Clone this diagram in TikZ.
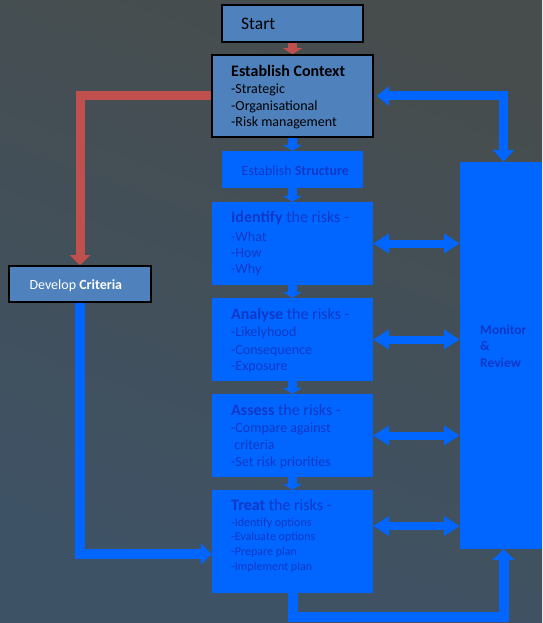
\documentclass[tikz,border=0pt]{standalone}
\usepackage{fontspec}
\setmainfont{Carlito}
\usetikzlibrary{arrows.meta}
\definecolor{bgtop}{RGB}{71,77,77}
\definecolor{bgbot}{RGB}{62,82,102}
\definecolor{paleblue}{RGB}{79,129,189}
\definecolor{vivid}{RGB}{0,102,255}
\definecolor{deepblue}{RGB}{18,56,200}
\definecolor{brick}{RGB}{192,80,77}
\tikzset{
  framed/.style={rectangle, draw=black, line width=1.6pt, fill=paleblue, inner sep=0pt},
  plain/.style={rectangle, fill=vivid, inner sep=0pt},
  ttl/.style={anchor=base west, inner sep=0pt, font=\fontsize{16}{19}\selectfont},
  itm/.style={anchor=base west, inner sep=0pt, font=\fontsize{14}{17}\selectfont},
  sml/.style={anchor=base west, inner sep=0pt, font=\fontsize{12}{14}\selectfont},
  bigtxt/.style={anchor=base west, inner sep=0pt, font=\fontsize{17.5}{21}\selectfont},
  montxt/.style={anchor=base west, inner sep=0pt, text=deepblue, font=\fontsize{13.5}{16}\selectfont\bfseries},
  redflow/.style={draw=brick, line width=9pt, line join=miter},
  blueflow/.style={draw=vivid, line width=9pt, line join=miter},
  stub/.style={-{Triangle[width=19pt,length=6pt]}},
  both/.style={line width=8pt, draw=vivid, {Triangle[width=19pt,length=16pt]}-{Triangle[width=19pt,length=16pt]}},
}
\begin{document}
\begin{tikzpicture}[x=1pt,y=-1pt]
  % background
  \shade[shading=axis, top color=bgtop, bottom color=bgbot, shading angle=-20] (0,0) rectangle (542,623);
  \useasboundingbox (0,0) rectangle (542,623);

  % boxes
  \node[framed, minimum width=141pt, minimum height=37pt] (start) at (292.5,23.5) {};
  \node[framed, minimum width=161pt, minimum height=82pt] (context) at (292.5,96) {};
  \node[plain, minimum width=141pt, minimum height=37pt] (structure) at (292.5,169.5) {};
  \node[plain, minimum width=161pt, minimum height=83pt] (identify) at (292.5,243.5) {};
  \node[plain, minimum width=161pt, minimum height=83pt] (analyse) at (292.5,339.5) {};
  \node[plain, minimum width=161pt, minimum height=83pt] (assess) at (292.5,435.5) {};
  \node[plain, minimum width=161pt, minimum height=103pt] (treat) at (292.5,541.5) {};
  \node[framed, minimum width=142pt, minimum height=36pt] (criteria) at (80,284) {};
  \node[plain, minimum width=82pt, minimum height=387pt] (monitor) at (501,355.5) {};

  % texts
  \node[bigtxt] (startT) at (241,29.5) {Start};

  \node[ttl] (ctxT) at (231,77) {\textbf{Establish Context}};
  \node[itm] (ctxA) at (231,94) {-Strategic};
  \node[itm] (ctxB) at (231,110.5) {-Organisational};
  \node[itm] (ctxC) at (231,127) {-Risk management};

  \node[itm, text=deepblue] (strT) at (241.5,175) {Establish \textbf{Structure}};

  \node[ttl, text=deepblue] (idT) at (231,222.7) {\textbf{Identify} the risks -};
  \node[itm, text=deepblue] (idA) at (231,241) {-What};
  \node[itm, text=deepblue] (idB) at (231,257) {-How};
  \node[itm, text=deepblue] (idC) at (231,273) {-Why};

  \node[ttl, text=deepblue] (anT) at (231,319) {\textbf{Analyse} the risks -};
  \node[itm, text=deepblue] (anA) at (231,336.7) {-Likelyhood};
  \node[itm, text=deepblue] (anB) at (231,354) {-Consequence};
  \node[itm, text=deepblue] (anC) at (231,370.7) {-Exposure};

  \node[ttl, text=deepblue] (asT) at (231,415) {\textbf{Assess} the risks -};
  \node[itm, text=deepblue] (asA) at (231,432.7) {-Compare against};
  \node[itm, text=deepblue] (asB) at (231,449.3) {\ criteria};
  \node[itm, text=deepblue] (asC) at (231,466.7) {-Set risk priorities};

  \node[ttl, text=deepblue] (trT) at (231,510.7) {\textbf{Treat} the risks -};
  \node[sml, text=deepblue] (trA) at (231,526.7) {-Identify options};
  \node[sml, text=deepblue] (trB) at (231,540.7) {-Evaluate options};
  \node[sml, text=deepblue] (trC) at (231,555) {-Prepare plan};
  \node[sml, text=deepblue] (trD) at (231,570) {-Implement plan};

  \node[itm, text=white] (crT) at (29.3,289.3) {Develop \textbf{Criteria}};

  \node[montxt] (monA) at (480,334) {Monitor};
  \node[montxt] (monB) at (480,350.7) {\&};
  \node[montxt] (monC) at (480,367.3) {Review};

  % red connectors
  \draw[redflow, stub] (start.south) -- (context.north);
  \draw[redflow, -{Triangle[width=20pt,length=10pt]}] (context.west) -| (criteria.north);

  % main chain
  \draw[blueflow, stub] (context.south) -- (structure.north);
  \draw[blueflow, stub] (structure.south) -- (identify.north);
  \draw[blueflow, stub] (identify.south) -- (analyse.north);
  \draw[blueflow, stub] (analyse.south) -- (assess.north);
  \draw[blueflow, stub] (assess.south) -- (treat.north);

  % criteria into treatment
  \draw[blueflow, line width=10pt, -{Triangle[width=21pt,length=11pt]}]
    (criteria.south) |- ([yshift=-12.5pt]treat.west);

  % monitor feedback
  \draw[blueflow, {Triangle[width=19pt,length=12pt]}-{Triangle[width=21pt,length=12pt]}]
    ([xshift=3pt]context.east) -| ([xshift=2.5pt]monitor.north);
  \draw[both] (identify.east) -- (identify.east -| monitor.west);
  \draw[both] (analyse.east) -- (analyse.east -| monitor.west);
  \draw[both] (assess.east) -- (assess.east -| monitor.west);
  \draw[both] ([yshift=15.5pt]treat.east) -- ([yshift=15.5pt]treat.east -| monitor.west);
  \draw[blueflow, line width=10pt, -{Triangle[width=22pt,length=11pt]}]
    (treat.south) -- ++(0,24) -| ([xshift=2.5pt]monitor.south);
\end{tikzpicture}
\end{document}
